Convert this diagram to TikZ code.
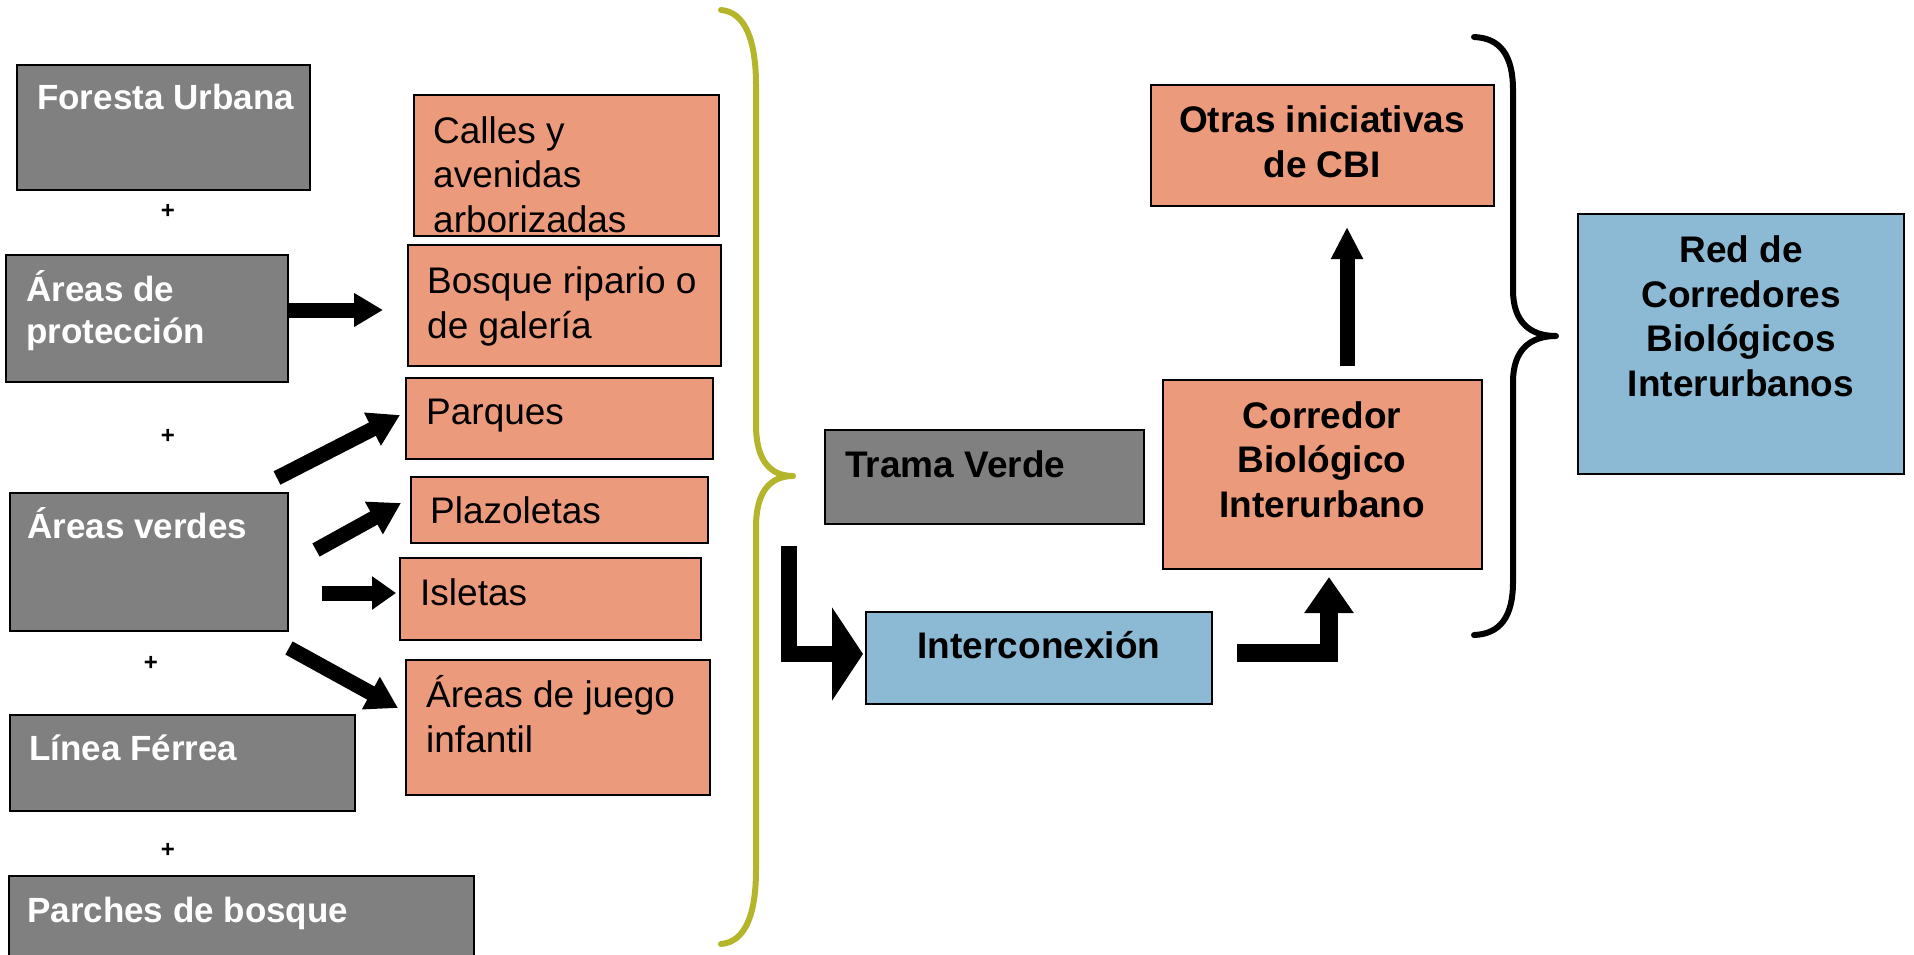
\documentclass[tikz,border=0pt]{standalone}
\usepackage{fontspec}
\setmainfont{Liberation Sans}
\usetikzlibrary{arrows.meta}
\definecolor{grayfill}{RGB}{128,128,128}
\definecolor{salmon}{RGB}{236,154,124}
\definecolor{bluefill}{RGB}{140,186,212}
\definecolor{olive}{RGB}{181,181,44}
\newcommand\leftfont{\fontsize{35}{42}\selectfont\bfseries}
\newcommand\regfont{\fontsize{37}{44.5}\selectfont}
\newcommand\boldfont{\fontsize{37}{44.5}\selectfont\bfseries}
\tikzset{
  box/.style={draw=black, line width=1.8pt, inner sep=0pt, outer sep=0pt, anchor=north west},
  gbox/.style={box, fill=grayfill},
  sbox/.style={box, fill=salmon},
  bbox/.style={box, fill=bluefill},
  lbl/.style={inner sep=0pt, text height=33pt, text depth=7pt},
  wlbl/.style={lbl, text=white, font=\leftfont, align=left, anchor=west},
  olbl/.style={lbl, text=black, font=\regfont, align=left, anchor=west},
  clbl/.style={lbl, text=black, font=\boldfont, align=center, anchor=center},
  plus/.style={inner sep=0pt, font=\fontsize{24}{24}\selectfont\bfseries},
  barrow/.style={line width=15pt, -{Triangle[length=29pt,width=32pt]}},
  darrow/.style={line width=15pt, -{Triangle[length=31pt,width=35pt]}},
  brace/.style={line width=6pt, line cap=round, line join=round},
}
\begin{document}
\begin{tikzpicture}[x=1pt,y=-1pt]
\useasboundingbox (0,0) rectangle (1914,954);
% left grey boxes
\node[gbox, minimum width=293pt, minimum height=125pt] (fu) at (17,65) {};
\node[gbox, minimum width=282pt, minimum height=127pt] (apro) at (6,255) {};
\node[gbox, minimum width=278pt, minimum height=138pt] (aver) at (10,493) {};
\node[gbox, minimum width=345pt, minimum height=96pt] (lfer) at (10,715) {};
\node[gbox, minimum width=465pt, minimum height=100pt] (pbos) at (9,876) {};
% (multi-line labels are anchored at the centre of their last line)
\node[wlbl] (tfu) at (37,96) {Foresta Urbana};
\node[wlbl] (tapro) at (26,330) {Áreas de\\protección};
\node[wlbl] (taver) at (27,525) {Áreas verdes};
\node[wlbl] (tlfer) at (29,747) {Línea Férrea};
\node[wlbl] (tpbos) at (27,909) {Parches de bosque};
\node[plus] (p1) at (168,211) {+};
\node[plus] (p2) at (168,436) {+};
\node[plus] (p3) at (151,663) {+};
\node[plus] (p4) at (168,850) {+};
% salmon boxes
\node[sbox, minimum width=305pt, minimum height=141pt] (calles) at (414,95) {};
\node[sbox, minimum width=313pt, minimum height=121pt] (bosq) at (408,245) {};
\node[sbox, minimum width=307pt, minimum height=81pt] (parq) at (406,378) {};
\node[sbox, minimum width=297pt, minimum height=66pt] (plaz) at (411,477) {};
\node[sbox, minimum width=301pt, minimum height=82pt] (isle) at (400,558) {};
\node[sbox, minimum width=304pt, minimum height=135pt] (ajue) at (406,660) {};
\node[olbl] (tcalles) at (433,219) {Calles y\\avenidas\\arborizadas};
\node[olbl] (tbosq) at (427,325) {Bosque ripario o\\de galería};
\node[olbl] (tparq) at (426,411) {Parques};
\node[olbl] (tplaz) at (430,510) {Plazoletas};
\node[olbl] (tisle) at (420,592) {Isletas};
\node[olbl] (tajue) at (426,739) {Áreas de juego\\infantil};
% right side
\node[gbox, minimum width=319pt, minimum height=94pt] (trama) at (825,430) {};
\node[lbl, font=\boldfont, anchor=west] (ttrama) at (845,464) {Trama Verde};
\node[bbox, minimum width=346pt, minimum height=92pt] (inter) at (866,612) {};
\node[clbl] (tinter) at (1039,645) {Interconexión};
\node[sbox, minimum width=319pt, minimum height=189pt] (cbi) at (1163,380) {};
\node[clbl] (tcbi) at (1322,504) {Corredor\\Biológico\\Interurbano};
\node[sbox, minimum width=343pt, minimum height=121pt] (otras) at (1151,85) {};
\node[clbl] (totras) at (1322,164) {Otras iniciativas\\de CBI};
\node[bbox, minimum width=326pt, minimum height=260pt] (red) at (1578,214) {};
\node[clbl] (tred) at (1741,383) {Red de\\Corredores\\Biológicos\\Interurbanos};
% arrows
\coordinate (a1s) at (288,310); \coordinate (a1e) at (383,310);
\draw[barrow] (a1s) -- (a1e);
\coordinate (a2s) at (277,478); \coordinate (a2e) at (400,415);
\draw[darrow] (a2s) -- (a2e);
\coordinate (a3s) at (316,550); \coordinate (a3e) at (401,503);
\draw[darrow] (a3s) -- (a3e);
\coordinate (a4s) at (322,593); \coordinate (a4e) at (396,593);
\draw[line width=15pt, -{Triangle[length=24pt,width=32pt]}] (a4s) -- (a4e);
\coordinate (a5s) at (289,648); \coordinate (a5e) at (398,708);
\draw[darrow] (a5s) -- (a5e);
\coordinate (ups) at (1347,366); \coordinate (upe) at (1347,227);
\draw[line width=15pt, -{Triangle[length=32pt,width=30pt]}] (ups) -- (upe);
\coordinate (l1s) at (789,546); \coordinate (l1e) at (863,654);
\draw[line width=16pt, line join=miter, -{Triangle[length=31pt,width=92pt]}] (l1s) |- (l1e);
\coordinate (l2s) at (1237,653); \coordinate (l2e) at (1329,577);
\draw[line width=18pt, line join=miter, -{Triangle[length=36pt,width=47pt]}] (l2s) -| (l2e);
% braces
\draw[brace, olive] (721,10) .. controls (745,12) and (756,40) .. (756,85) -- (756,425)
  .. controls (756,460) and (770,476) .. (793,476)
  .. controls (770,476) and (756,492) .. (756,527) -- (756,870)
  .. controls (756,915) and (745,942) .. (721,944);
\draw[brace, black] (1474,37) .. controls (1500,38) and (1513,55) .. (1513,90) -- (1513,290)
  .. controls (1513,322) and (1530,336) .. (1556,336)
  .. controls (1530,336) and (1513,350) .. (1513,382) -- (1513,582)
  .. controls (1513,617) and (1500,634) .. (1474,635);
\end{tikzpicture}
\end{document}
